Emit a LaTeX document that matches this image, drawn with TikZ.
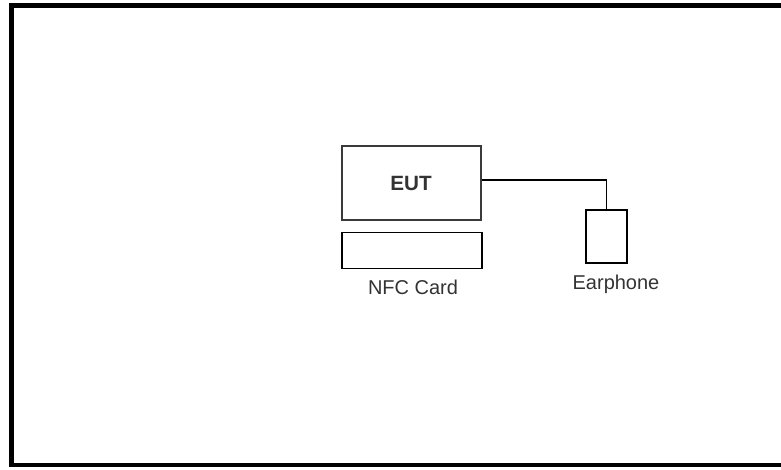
\documentclass[tikz,border=0pt]{standalone}
\usepackage{fontspec}
\setmainfont{Liberation Sans}
\definecolor{txt}{HTML}{333333}
\definecolor{eutline}{HTML}{3A3A3A}
\begin{document}
\begin{tikzpicture}[x=0.75pt,y=-0.75pt,
  thinbox/.style={draw=black,line width=0.9pt,inner sep=0pt},
  eutbox/.style={draw=eutline,line width=1.8pt,inner sep=0pt},
  lbl/.style={text=txt,font=\fontsize{15}{17}\selectfont,inner sep=0pt,anchor=base},
  wire/.style={draw=black,line width=0.9pt}]
\useasboundingbox (0,0) rectangle (781,469);
\draw[line width=3.6pt,black] (11.5,5.5) rectangle (800,465);
\node[eutbox,minimum width=139*0.75pt,minimum height=74*0.75pt] (eut) at (411.5,183) {};
\node[text=txt,font=\bfseries\fontsize{15.5}{18}\selectfont,inner sep=0pt,anchor=base] (eutlbl) at (411,190.5) {EUT};
\node[thinbox,minimum width=140*0.75pt,minimum height=36*0.75pt] (nfc) at (412,250.3) {};
\node[lbl] (nfclbl) at (413,294.5) {NFC Card};
\node[thinbox,minimum width=41*0.75pt,minimum height=53*0.75pt] (ear) at (606.5,236.5) {};
\node[lbl] (earlbl) at (616,289.5) {Earphone};
\coordinate (bend) at (606.5,180);
\draw[wire] (eut.east |- bend) -- (bend) -- (ear.north);
\end{tikzpicture}
\end{document}
